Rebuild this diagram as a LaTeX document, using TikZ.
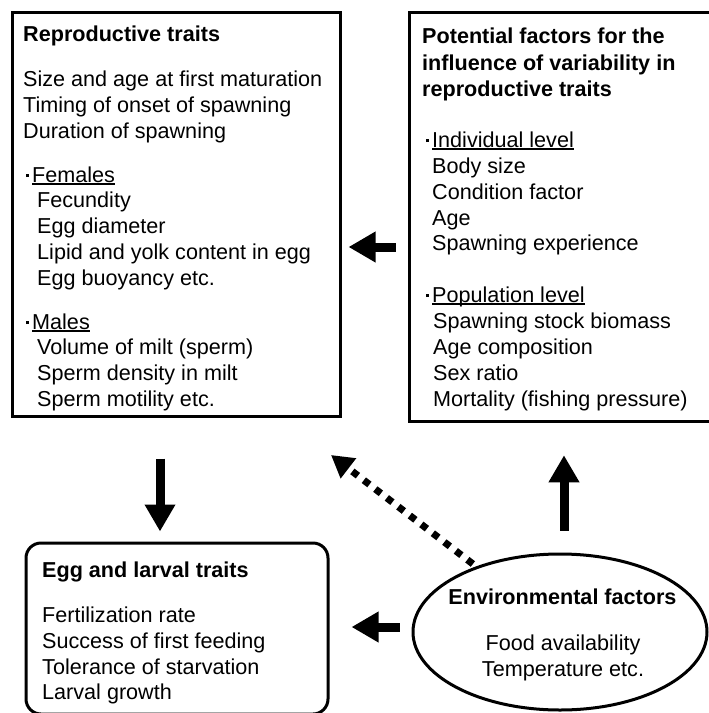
\documentclass[tikz,border=0pt]{standalone}
\usepackage{fontspec}
\setmainfont{Liberation Sans}
\usetikzlibrary{arrows.meta,shapes.geometric}

\newcommand{\lvlul}[1]{\setbox0\hbox{#1}\rlap{\rule[-2.5pt]{\wd0}{1.2pt}}\box0}
\newcommand{\lvl}[1]{\rule[5pt]{3pt}{3pt}\hspace{3pt}\lvlul{#1}}

\tikzset{
  box/.style={draw, line width=3pt, rectangle, inner sep=0pt},
  txt/.style={anchor=base west, inner sep=0pt, font=\fontsize{21.6pt}{26pt}\selectfont},
  hdr/.style={txt, font=\fontsize{21.6pt}{26pt}\selectfont\bfseries},
  fat/.style={line width=9pt, -{Triangle[length=27pt,width=29pt]}},
  dots/.style={line width=7pt, dash pattern=on 7pt off 7.5pt, -{Triangle[length=22pt,width=24pt]}}
}

\begin{document}
\begin{tikzpicture}[x=1pt, y=-1pt]
  \useasboundingbox (0,0) rectangle (709,713);

  % boxes
  \node[box, minimum width=328pt, minimum height=404pt] (repro) at (176,214) {};
  \node[box, minimum width=304pt, minimum height=409.5pt] (factors) at (561,217) {};
  \node[box, rounded corners=15pt, minimum width=302pt, minimum height=171pt] (egg) at (177,628.5) {};
  \node[box, ellipse, minimum width=294pt, minimum height=156pt] (env) at (560,632) {};

  % reproductive traits
  \node[hdr] (reproT) at (23,41) {Reproductive traits};
  \foreach \y/\lbl in {86/Size and age at first maturation, 112/Timing of onset of spawning, 138/Duration of spawning}
    \node[txt] (rp\y) at (23,\y) {\lbl};
  \node[txt] (fem) at (26,182) {\lvl{Females}};
  \foreach \y/\lbl in {207/Fecundity, 233/Egg diameter, 259/Lipid and yolk content in egg, 285/Egg buoyancy etc.}
    \node[txt] (fm\y) at (37,\y) {\lbl};
  \node[txt] (mal) at (26,329) {\lvl{Males}};
  \foreach \y/\lbl in {354/Volume of milt (sperm), 380/Sperm density in milt, 406/Sperm motility etc.}
    \node[txt] (ml\y) at (37,\y) {\lbl};

  % potential factors
  \foreach \y/\lbl in {43/Potential factors for the, 70/influence of variability in, 96/reproductive traits}
    \node[hdr] (fcT\y) at (422,\y) {\lbl};
  \node[txt] (ind) at (426,147) {\lvl{Individual level}};
  \foreach \y/\lbl in {173/Body size, 199/Condition factor, 225/Age, 250/Spawning experience}
    \node[txt] (in\y) at (432,\y) {\lbl};
  \node[txt] (pop) at (426,302) {\lvl{Population level}};
  \foreach \y/\lbl in {328/Spawning stock biomass, 354/Age composition, 380/Sex ratio, 406/Mortality (fishing pressure)}
    \node[txt] (pp\y) at (433,\y) {\lbl};

  % egg and larval traits
  \node[hdr] (eggT) at (42,577) {Egg and larval traits};
  \foreach \y/\lbl in {622/Fertilization rate, 648/Success of first feeding, 674/Tolerance of starvation, 699/Larval growth}
    \node[txt] (eg\y) at (42,\y) {\lbl};

  % environmental factors
  \node[hdr, anchor=base] (envT) at (562.5,604) {Environmental factors};
  \node[txt, anchor=base] (env1) at (563,650) {Food availability};
  \node[txt, anchor=base] (env2) at (563,676) {Temperature etc.};

  % arrows
  \draw[fat, shorten <=12pt, shorten >=7pt] ([yshift=-30pt]factors.west) -- ([yshift=-33pt]repro.east);
  \draw[fat, shorten <=41pt, shorten >=10pt] ([xshift=-16pt]repro.south) -- ([xshift=-17pt]egg.north);
  \draw[fat, shorten <=12pt, shorten >=22pt] ([yshift=5pt]env.west) -- ([yshift=1.5pt]egg.east);
  \draw[fat, shorten <=22pt, shorten >=32pt] ([xshift=4pt]env.north) -- ([xshift=3pt]factors.south);
  \coordinate (gapR) at (331,455);
  \draw[dots, shorten <=4pt] (env.142) -- (gapR);
\end{tikzpicture}
\end{document}
